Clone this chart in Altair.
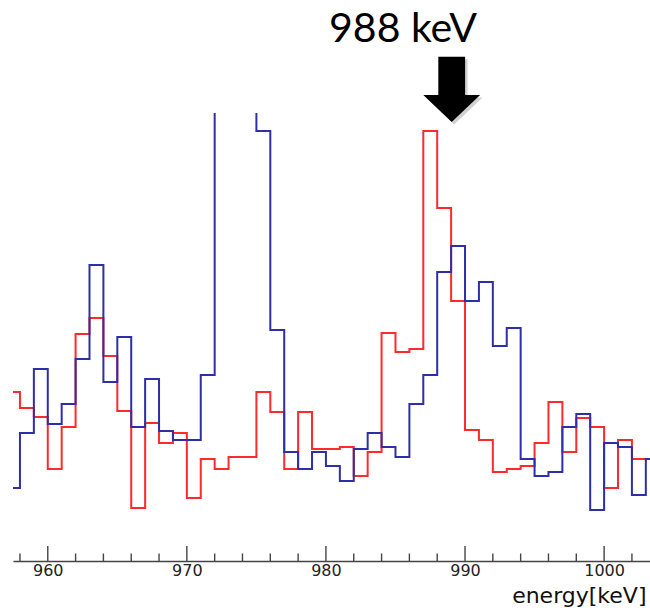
import altair as alt
import pandas as pd

# Lower edges of the 1 keV energy bins (keV)
bin_low = list(range(957, 1004))

# Counts per bin, blue spectrum (three bins near 972-974 keV run far off scale)
blue_counts = [73, 128, 192, 137, 157, 202, 296, 179, 224, 134, 182, 130, 121,
               121, 186, 900, 1000, 950, 430, 231, 109, 92, 109, 95, 80, 112,
               128, 114, 104, 157, 186, 289, 315, 260, 279, 215, 233, 102, 85,
               89, 134, 147, 51, 118, 114, 66, 102]

# Counts per bin, red spectrum
red_counts = [169, 153, 144, 92, 134, 227, 243, 205, 150, 53, 138, 118, 128,
              63, 102, 92, 104, 104, 169, 149, 92, 149, 112, 112, 114, 85, 109,
              228, 209, 212, 430, 353, 260, 131, 121, 89, 92, 95, 118, 159, 109,
              143, 134, 73, 121, 102, 102]

major_ticks = [960, 970, 980, 990, 1000]
minor_ticks = [958, 962, 964, 966, 968, 972, 974, 976, 978, 982, 984, 986,
               988, 992, 994, 996, 998, 1002]

peak_label = ["988 keV"]


def step_frame(counts):
    # histogram outline: one point per lower edge plus the closing upper edge
    edges = bin_low + [bin_low[-1] + 1]
    values = counts + [counts[-1]]
    return pd.DataFrame({"energy": edges, "counts": values})


x_scale = alt.Scale(domain=[957.5, 1003.3], nice=False, zero=False)
y_scale = alt.Scale(domain=[0, 448], nice=False, zero=True)

x_axis = alt.Axis(
    values=major_ticks, format="d", ticks=False, tickSize=0, grid=False,
    labelFont="DejaVu Sans", labelFontSize=16, labelColor="#222222",
    labelBaseline="alphabetic", labelPadding=14, labelFlush=False,
    domain=True, domainColor="#444444", domainWidth=1.5,
    title="energy[keV]", titleFont="DejaVu Sans", titleFontSize=22,
    titleFontWeight="normal", titleColor="#111111",
    titleAnchor="end", titleAlign="right", titleBaseline="alphabetic",
    titleX=633, titleY=41,
)

red = alt.Chart(step_frame(red_counts)).mark_line(
    interpolate="step-after", color="#ff2b2b", strokeWidth=2, clip=True
).encode(
    x=alt.X("energy:Q", scale=x_scale, axis=x_axis),
    y=alt.Y("counts:Q", scale=y_scale, axis=None),
)

blue = alt.Chart(step_frame(blue_counts)).mark_line(
    interpolate="step-after", color="#2e2ea8", strokeWidth=2, clip=True
).encode(
    x=alt.X("energy:Q", scale=x_scale, axis=x_axis),
    y=alt.Y("counts:Q", scale=y_scale, axis=None),
)

major = alt.Chart(pd.DataFrame({"energy": major_ticks})).mark_rule(
    color="#444444", strokeWidth=1.4
).encode(
    x=alt.X("energy:Q", scale=x_scale, axis=x_axis),
    y=alt.value(448), y2=alt.value(433),
)

minor = alt.Chart(pd.DataFrame({"energy": minor_ticks})).mark_rule(
    color="#444444", strokeWidth=1.4
).encode(
    x=alt.X("energy:Q", scale=x_scale, axis=x_axis),
    y=alt.value(448), y2=alt.value(440.5),
)

# Block arrow drawn as a custom symbol path
arrow_path = ("M -0.41 -1 L 0.41 -1 L 0.41 0.175 L 0.87 0.175 L 0 1 "
              "L -0.87 0.175 L -0.41 0.175 Z")
label_df = pd.DataFrame({"label": peak_label})

arrow_shadow = alt.Chart(label_df).mark_point(
    shape=arrow_path, size=4264, filled=True, color="#000000",
    opacity=0.18, strokeWidth=0
).encode(x=alt.value(441.2), y=alt.value(-21.2))

arrow = alt.Chart(label_df).mark_point(
    shape=arrow_path, size=4264, filled=True, color="#000000",
    opacity=1, strokeWidth=0
).encode(x=alt.value(438.7), y=alt.value(-23.7))

label = alt.Chart(label_df).mark_text(
    font="Lato", fontSize=41, color="#000000", align="center",
    baseline="alphabetic"
).encode(x=alt.value(390), y=alt.value(-71.5), text="label:N")

chart = alt.layer(
    major, minor, red, blue, arrow_shadow, arrow, label
).properties(
    width=637, height=448,
    padding={"left": 13, "top": 113, "right": 0, "bottom": 50},
    autosize=alt.AutoSizeParams(type="none"),
    background="white",
).configure_view(stroke=None)

chart.save("out.html", embed_options={"renderer": "svg", "actions": False})
